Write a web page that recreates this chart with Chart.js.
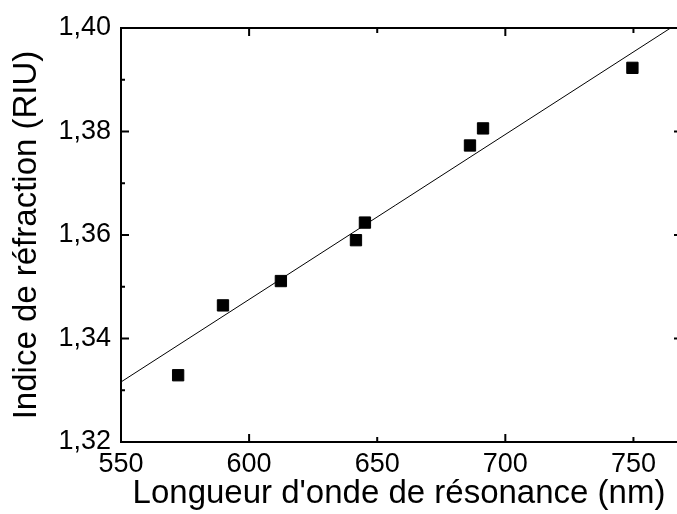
<!DOCTYPE html>
<html><head><meta charset="utf-8">
<script src="https://cdn.jsdelivr.net/npm/chart.js@4/dist/chart.umd.min.js"></script>
<style>html,body{margin:0;padding:0;background:#fff}</style>
</head><body>
<canvas id="c" width="677" height="514"></canvas>
<script>
const wavelengths = [572.3, 589.8, 612.4, 641.7, 645.2, 686.2, 691.3, 749.6];
const indices = [1.3329, 1.3464, 1.3511, 1.3590, 1.3624, 1.3773, 1.3806, 1.3923];
const fitX = [550, 764.5];
const fitY = [1.3316, 1.4000];
const xTickValues = [550, 600, 650, 700, 750];
const xMajorTicks = [600, 700];
const yTickValues = [1.32, 1.34, 1.36, 1.38, 1.40];
const yMinorTicks = [1.33, 1.35, 1.37, 1.39];
const xTitle = "Longueur d'onde de résonance (nm)";
const yTitle = "Indice de réfraction (RIU)";

const FONT = "'Liberation Sans', Arial, sans-serif";

const framePlugin = {
  id: 'frame',
  afterDatasetsDraw(chart) {
    const {ctx, chartArea: a, scales: {x, y}} = chart;
    // the right axis of the original lies just past the picture's edge
    const rightAxis = a.right + 5;
    ctx.save();
    ctx.strokeStyle = '#000';
    ctx.lineWidth = 2;
    ctx.beginPath();
    ctx.moveTo(rightAxis, a.top); ctx.lineTo(a.left, a.top);
    ctx.lineTo(a.left, a.bottom); ctx.lineTo(rightAxis, a.bottom);
    ctx.lineTo(rightAxis, a.top);
    xTickValues.forEach(v => {
      const px = x.getPixelForValue(v);
      const len = xMajorTicks.includes(v) ? 8 : 5;
      ctx.moveTo(px, a.bottom); ctx.lineTo(px, a.bottom - len);
      ctx.moveTo(px, a.top); ctx.lineTo(px, a.top + len);
    });
    yTickValues.forEach(v => {
      const py = y.getPixelForValue(v);
      ctx.moveTo(a.left, py); ctx.lineTo(a.left + 8, py);
      ctx.moveTo(rightAxis, py); ctx.lineTo(rightAxis - 8, py);
    });
    yMinorTicks.forEach(v => {
      const py = y.getPixelForValue(v);
      ctx.moveTo(a.left, py); ctx.lineTo(a.left + 4, py);
      ctx.moveTo(rightAxis, py); ctx.lineTo(rightAxis - 4, py);
    });
    ctx.stroke();
    ctx.restore();
  }
};

new Chart(document.getElementById('c'), {
  type: 'scatter',
  data: {
    datasets: [
      {
        type: 'line',
        data: fitX.map((v, i) => ({x: v, y: fitY[i]})),
        borderColor: '#000',
        borderWidth: 1,
        pointRadius: 0,
        fill: false,
        tension: 0
      },
      {
        type: 'scatter',
        data: wavelengths.map((v, i) => ({x: v, y: indices[i]})),
        pointStyle: 'rect',
        pointRadius: 8,
        backgroundColor: '#000',
        borderColor: '#000',
        borderWidth: 1
      }
    ]
  },
  options: {
    responsive: false,
    devicePixelRatio: 1,
    animation: false,
    layout: {autoPadding: false, padding: {top: 28, right: 0, left: 0, bottom: 0}},
    plugins: {legend: {display: false}, tooltip: {enabled: false}},
    scales: {
      x: {
        type: 'linear',
        position: 'bottom',
        min: 550,
        max: 767,
        afterBuildTicks: s => { s.ticks = xTickValues.map(v => ({value: v})); },
        afterFit: s => { s.height = 72; s.paddingLeft = 0; s.paddingRight = 0; },
        ticks: {
          color: '#000',
          font: {family: FONT, size: 27},
          padding: 6,
          maxRotation: 0,
          autoSkip: false,
          callback: v => String(v)
        },
        grid: {display: false, drawTicks: false, tickLength: 0},
        border: {display: false},
        title: {
          display: true,
          text: xTitle,
          color: '#000',
          font: {family: FONT, size: 33},
          padding: {top: 0, bottom: 0}
        }
      },
      y: {
        type: 'linear',
        position: 'left',
        min: 1.32,
        max: 1.40,
        afterBuildTicks: s => { s.ticks = yTickValues.map(v => ({value: v})); },
        afterFit: s => { s.width = 121; s.paddingTop = 0; s.paddingBottom = 0; },
        ticks: {
          color: '#000',
          font: {family: FONT, size: 27},
          padding: 10,
          autoSkip: false,
          callback: v => Number(v).toFixed(2).replace('.', ',')
        },
        grid: {display: false, drawTicks: false, tickLength: 0},
        border: {display: false},
        title: {
          display: true,
          text: yTitle,
          color: '#000',
          font: {family: FONT, size: 33},
          padding: {top: 7, bottom: 0}
        }
      }
    }
  },
  plugins: [framePlugin]
});
</script>
</body></html>
